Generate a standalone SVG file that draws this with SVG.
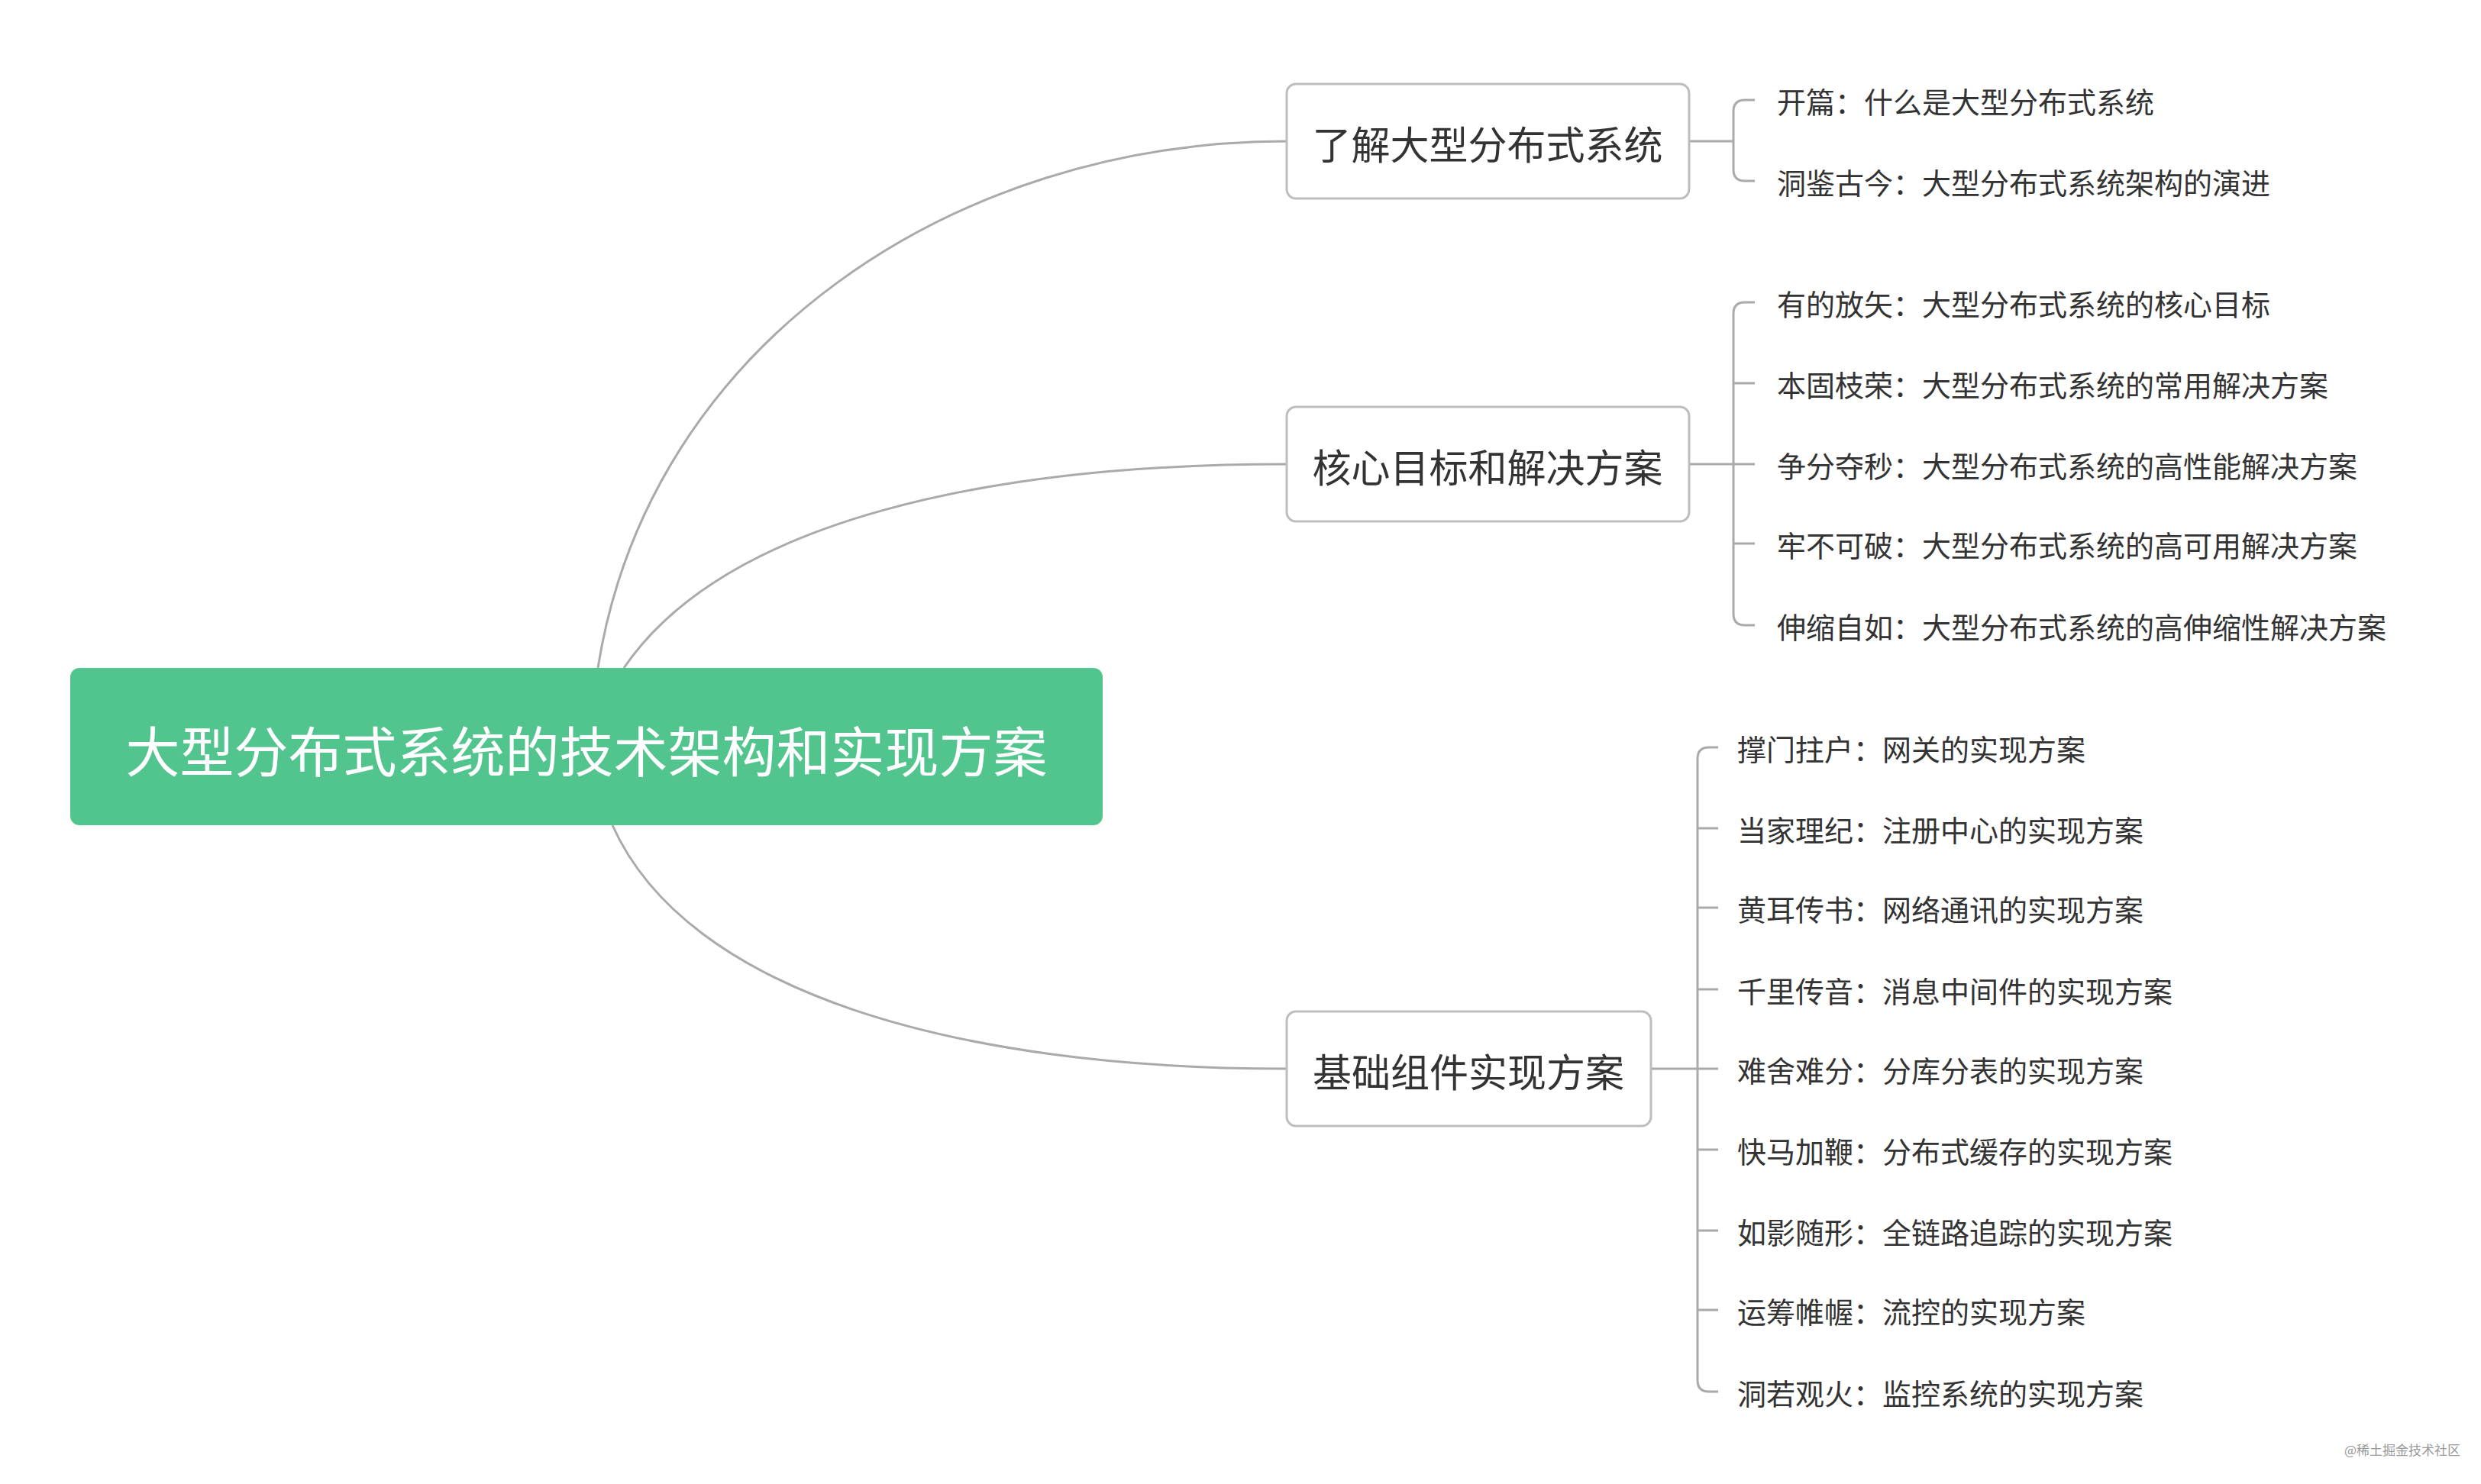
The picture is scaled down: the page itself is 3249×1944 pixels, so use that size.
<svg xmlns="http://www.w3.org/2000/svg" width="3249" height="1944" viewBox="0 0 3249 1944">
<style>
text{font-family:"Noto Sans CJK SC","Noto Sans",sans-serif;fill:#333;dominant-baseline:central}
.box{fill:#fff;stroke:#bdbdbd;stroke-width:3}
.n{font-size:51px;text-anchor:middle}
.l{font-size:38px}
.c{fill:none;stroke:#aaa;stroke-width:3}
</style>
<rect width="3249" height="1944" fill="#fff"/>
<g id="connectors">
<path class="c" d="M783 875 C850 450 1250 185 1685 185"/>
<path class="c" d="M817 875 C950 680 1300 608 1685 608"/>
<path class="c" d="M802 1081 C900 1300 1250 1400 1685 1400"/>
<path class="c" d="M2212 185 H2270 M2298 131 H2285 Q2270 131 2270 146 V222 Q2270 237 2285 237 H2298"/>
<path class="c" d="M2212 608 H2270 M2298 396 H2285 Q2270 396 2270 411 V804 Q2270 819 2285 819 H2298 M2270 502 H2298 M2270 608 H2298 M2270 712 H2298"/>
<path class="c" d="M2162 1400 H2223 M2250 979 H2238 Q2223 979 2223 994 V1808 Q2223 1823 2238 1823 H2250 M2223 1085 H2250 M2223 1189 H2250 M2223 1296 H2250 M2223 1400 H2250 M2223 1506 H2250 M2223 1612 H2250 M2223 1716 H2250"/>
</g>
<g id="root"><rect x="92" y="875" width="1352" height="206" rx="12" fill="#52c48d"/><text x="768" y="980" font-size="71" text-anchor="middle" style="fill:#fff">大型分布式系统的技术架构和实现方案</text></g>
<g id="n1"><rect class="box" x="1685" y="110" width="527" height="150" rx="12"/><text class="n" x="1948" y="187">了解大型分布式系统</text></g>
<g id="n2"><rect class="box" x="1685" y="533" width="527" height="150" rx="12"/><text class="n" x="1948" y="610">核心目标和解决方案</text></g>
<g id="n3"><rect class="box" x="1685" y="1325" width="477" height="150" rx="12"/><text class="n" x="1923" y="1402">基础组件实现方案</text></g>
<g id="leaves1">
<text class="l" x="2327" y="131">开篇：什么是大型分布式系统</text>
<text class="l" x="2327" y="237">洞鉴古今：大型分布式系统架构的演进</text>
</g>
<g id="leaves2">
<text class="l" x="2327" y="396">有的放矢：大型分布式系统的核心目标</text>
<text class="l" x="2327" y="502">本固枝荣：大型分布式系统的常用解决方案</text>
<text class="l" x="2327" y="608">争分夺秒：大型分布式系统的高性能解决方案</text>
<text class="l" x="2327" y="712">牢不可破：大型分布式系统的高可用解决方案</text>
<text class="l" x="2327" y="819">伸缩自如：大型分布式系统的高伸缩性解决方案</text>
</g>
<g id="leaves3">
<text class="l" x="2275" y="979">撑门拄户：网关的实现方案</text>
<text class="l" x="2275" y="1085">当家理纪：注册中心的实现方案</text>
<text class="l" x="2275" y="1189">黄耳传书：网络通讯的实现方案</text>
<text class="l" x="2275" y="1296">千里传音：消息中间件的实现方案</text>
<text class="l" x="2275" y="1400">难舍难分：分库分表的实现方案</text>
<text class="l" x="2275" y="1506">快马加鞭：分布式缓存的实现方案</text>
<text class="l" x="2275" y="1612">如影随形：全链路追踪的实现方案</text>
<text class="l" x="2275" y="1716">运筹帷幄：流控的实现方案</text>
<text class="l" x="2275" y="1823">洞若观火：监控系统的实现方案</text>
</g>
<text x="3222" y="1898" font-size="17" text-anchor="end" style="fill:#999">@稀土掘金技术社区</text>
</svg>
